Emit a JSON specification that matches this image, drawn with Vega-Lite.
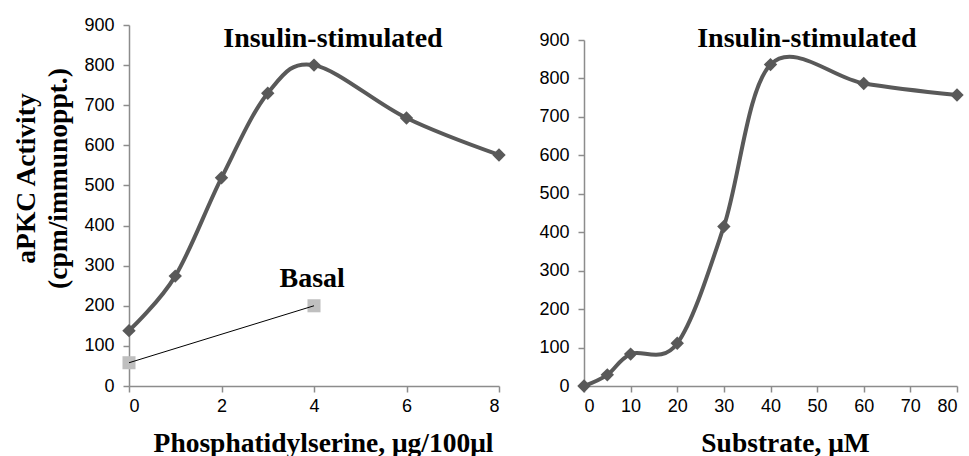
{
  "$schema": "https://vega.github.io/schema/vega-lite/v6.json",
  "autosize": {"type": "pad"},
  "padding": {"left": 12, "top": 16, "right": 5, "bottom": 5},
  "background": "white",
  "bounds": "flush",
  "spacing": 85,
  "config": {
    "view": {"stroke": null},
    "axis": {
      "grid": false,
      "domainColor": "#8c8c8c",
      "domainWidth": 1.5,
      "tickColor": "#8c8c8c",
      "tickWidth": 1.5,
      "tickSize": 6,
      "labelFont": "Liberation Sans",
      "labelFontSize": 18,
      "labelColor": "#000000",
      "titleFont": "Liberation Serif",
      "titleFontWeight": "bold",
      "titleFontSize": 27.5,
      "titleColor": "#000000"
    }
  },
  "datasets": {
    "ps": [
      {"series": "Insulin-stimulated", "x": 0, "y": 138},
      {"series": "Insulin-stimulated", "x": 1, "y": 274},
      {"series": "Insulin-stimulated", "x": 2, "y": 519},
      {"series": "Insulin-stimulated", "x": 3, "y": 730},
      {"series": "Insulin-stimulated", "x": 4, "y": 800},
      {"series": "Insulin-stimulated", "x": 6, "y": 668},
      {"series": "Insulin-stimulated", "x": 8, "y": 576},
      {"series": "Basal", "x": 0, "y": 58},
      {"series": "Basal", "x": 4, "y": 200}
    ],
    "sub": [
      {"x": 0, "y": 0},
      {"x": 5, "y": 29},
      {"x": 10, "y": 83},
      {"x": 20, "y": 111},
      {"x": 30, "y": 415},
      {"x": 40, "y": 836},
      {"x": 60, "y": 787},
      {"x": 80, "y": 757}
    ],
    "labelsLeft": [
      {"label": "Insulin-stimulated", "x": 4.41, "y": 845},
      {"label": "Basal", "x": 3.96, "y": 247}
    ],
    "labelsRight": [
      {"label": "Insulin-stimulated", "x": 47.8, "y": 882}
    ]
  },
  "hconcat": [
    {
      "width": 370,
      "height": 361,
      "encoding": {
        "x": {
          "field": "x", "type": "quantitative",
          "scale": {"domain": [0, 8], "nice": false},
          "axis": {
            "values": [0, 2, 4, 6, 8],
            "labelPadding": 5,
            "title": "Phosphatidylserine, μg/100μl",
            "titleX": 194, "titleY": 65, "titleBaseline": "alphabetic"
          }
        },
        "y": {
          "field": "y", "type": "quantitative",
          "scale": {"domain": [0, 900], "nice": false},
          "axis": {
            "values": [0, 100, 200, 300, 400, 500, 600, 700, 800, 900],
            "labelPadding": 9,
            "title": ["aPKC Activity", "(cpm/immunoppt.)"],
            "titleLineHeight": 32,
            "titlePadding": 11,
            "titleY": 153
          }
        }
      },
      "layer": [
        {
          "data": {"name": "ps"},
          "transform": [{"filter": "datum.series === 'Insulin-stimulated'"}],
          "mark": {"type": "line", "interpolate": "cardinal", "tension": 0, "color": "#595959", "strokeWidth": 4}
        },
        {
          "data": {"name": "ps"},
          "transform": [{"filter": "datum.series === 'Insulin-stimulated'"}],
          "mark": {"type": "point", "shape": "diamond", "filled": true, "size": 180, "color": "#595959", "opacity": 1}
        },
        {
          "data": {"name": "ps"},
          "transform": [{"filter": "datum.series === 'Basal'"}],
          "mark": {"type": "point", "shape": "square", "filled": true, "size": 170, "color": "#bfbfbf", "opacity": 1}
        },
        {
          "data": {"name": "ps"},
          "transform": [{"filter": "datum.series === 'Basal'"}],
          "mark": {"type": "line", "color": "#000000", "strokeWidth": 1}
        },
        {
          "data": {"name": "labelsLeft"},
          "mark": {"type": "text", "font": "Liberation Serif", "fontWeight": "bold", "fontSize": 28, "align": "center", "baseline": "alphabetic", "color": "#000000"},
          "encoding": {"text": {"field": "label"}}
        }
      ]
    },
    {
      "width": 373,
      "height": 361,
      "encoding": {
        "x": {
          "field": "x", "type": "quantitative",
          "scale": {"domain": [0, 80], "nice": false},
          "axis": {
            "values": [0, 10, 20, 30, 40, 50, 60, 70, 80],
            "labelPadding": 5,
            "title": "Substrate, μM",
            "titleX": 201, "titleY": 65, "titleBaseline": "alphabetic"
          }
        },
        "y": {
          "field": "y", "type": "quantitative",
          "scale": {"domain": [0, 900], "nice": false, "range": [361, 15]},
          "axis": {
            "values": [0, 100, 200, 300, 400, 500, 600, 700, 800, 900],
            "labelPadding": 9,
            "title": null
          }
        }
      },
      "layer": [
        {
          "data": {"name": "sub"},
          "mark": {"type": "line", "interpolate": "cardinal", "tension": 0, "color": "#595959", "strokeWidth": 4}
        },
        {
          "data": {"name": "sub"},
          "mark": {"type": "point", "shape": "diamond", "filled": true, "size": 180, "color": "#595959", "opacity": 1}
        },
        {
          "data": {"name": "labelsRight"},
          "mark": {"type": "text", "font": "Liberation Serif", "fontWeight": "bold", "fontSize": 28, "align": "center", "baseline": "alphabetic", "color": "#000000"},
          "encoding": {"text": {"field": "label"}}
        }
      ]
    }
  ]
}
